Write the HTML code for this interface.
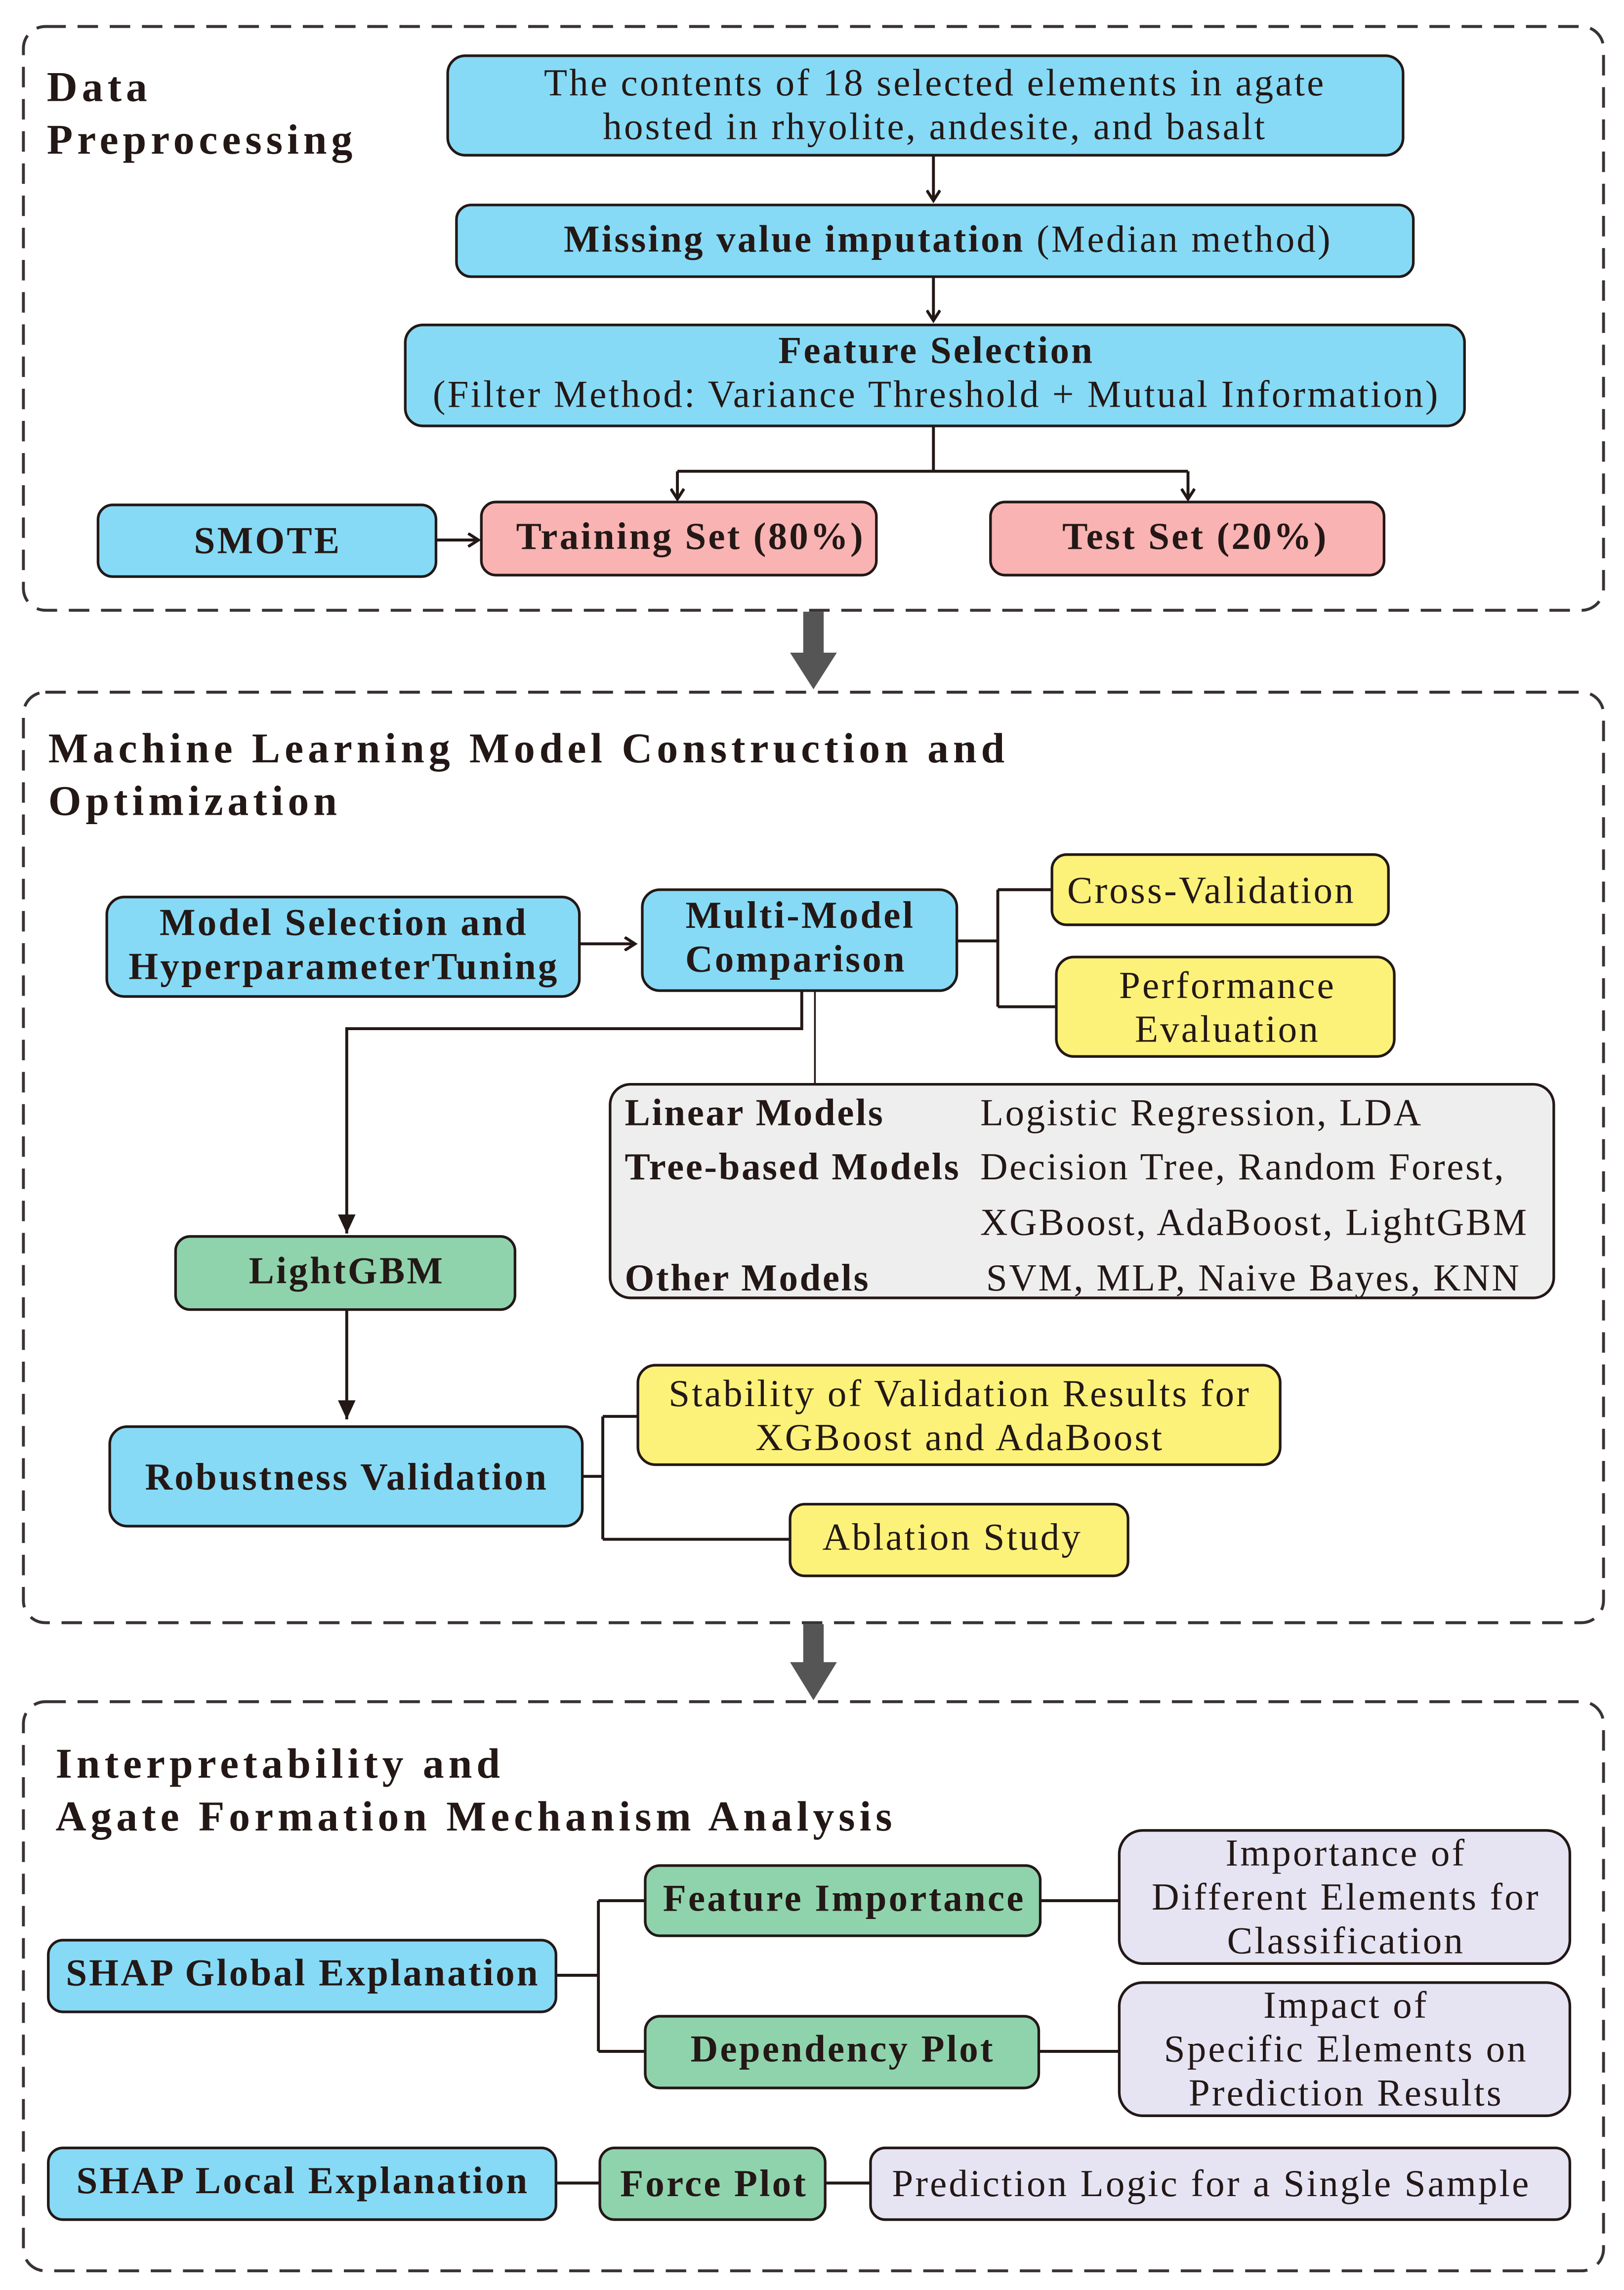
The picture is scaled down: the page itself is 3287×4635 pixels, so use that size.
<!DOCTYPE html>
<html><head><meta charset="utf-8"><style>html,body{margin:0;padding:0;background:#fff}svg{display:block}text{font-family:"Liberation Serif",serif;fill:#231816}</style></head>
<body>
<svg width="3287" height="4635" viewBox="0 0 1110 1565" xmlns="http://www.w3.org/2000/svg">
<defs>
<marker id="a" markerWidth="10" markerHeight="10" refX="8" refY="5" orient="auto" markerUnits="userSpaceOnUse"><path d="M1,0.5 L8,5 L1,9.5" fill="none" stroke="#231816" stroke-width="2"/></marker>
<marker id="t" markerWidth="14" markerHeight="14" refX="13" refY="7" orient="auto" markerUnits="userSpaceOnUse"><path d="M0,1 L13,7 L0,13 z" fill="#231816"/></marker>
</defs>
<g fill="none" stroke="#3a3333" stroke-width="2" stroke-dasharray="14,8">
<rect x="16" y="18" width="1080" height="399" rx="15"/>
<rect x="16" y="473" width="1080" height="636" rx="15"/>
<rect x="16" y="1163" width="1080" height="389" rx="15"/>
</g>
<g fill="#555">
<rect x="549" y="418" width="14" height="30"/><path d="M540,446 L572,446 L556,471 z"/>
<rect x="549" y="1110" width="14" height="28"/><path d="M540,1136 L572,1136 L556,1162 z"/>
</g>
<g stroke="#231816" stroke-width="1.8">
<rect x="306" y="38" width="653" height="68" rx="12" fill="#86daf5"/>
<rect x="312" y="140" width="654" height="49" rx="10" fill="#86daf5"/>
<rect x="277" y="222" width="724" height="69" rx="12" fill="#86daf5"/>
<rect x="67" y="345" width="231" height="49" rx="10" fill="#86daf5"/>
<rect x="329" y="343" width="270" height="50" rx="10" fill="#f9b3b3"/>
<rect x="677" y="343" width="269" height="50" rx="10" fill="#f9b3b3"/>
<rect x="73" y="613" width="323" height="68" rx="12" fill="#86daf5"/>
<rect x="439" y="608" width="215" height="69" rx="12" fill="#86daf5"/>
<rect x="719" y="584" width="230" height="48" rx="10" fill="#fcf27a"/>
<rect x="722" y="654" width="231" height="68" rx="12" fill="#fcf27a"/>
<rect x="417" y="741" width="645" height="146" rx="14" fill="#eeeeee"/>
<rect x="120" y="845" width="232" height="50" rx="10" fill="#8fd3ac"/>
<rect x="75" y="975" width="323" height="68" rx="12" fill="#86daf5"/>
<rect x="436" y="933" width="439" height="68" rx="12" fill="#fcf27a"/>
<rect x="540" y="1028" width="231" height="49" rx="10" fill="#fcf27a"/>
<rect x="33" y="1326" width="347" height="49" rx="10" fill="#86daf5"/>
<rect x="441" y="1275" width="270" height="48" rx="10" fill="#8fd3ac"/>
<rect x="765" y="1251" width="308" height="91" rx="16" fill="#e6e4f3"/>
<rect x="441" y="1378" width="269" height="49" rx="10" fill="#8fd3ac"/>
<rect x="765" y="1355" width="308" height="91" rx="16" fill="#e6e4f3"/>
<rect x="33" y="1468" width="347" height="49" rx="10" fill="#86daf5"/>
<rect x="410" y="1468" width="154" height="49" rx="10" fill="#8fd3ac"/>
<rect x="595" y="1468" width="478" height="49" rx="10" fill="#e6e4f3"/>
</g>
<g stroke="#231816" stroke-width="2" fill="none">
<path d="M638,106 V137" marker-end="url(#a)"/>
<path d="M638,189 V219" marker-end="url(#a)"/>
<path d="M638,291 V322 M463,322 H812"/>
<path d="M463,322 V341" marker-end="url(#a)"/>
<path d="M812,322 V341" marker-end="url(#a)"/>
<path d="M298,369 H327" marker-end="url(#a)"/>
<path d="M396,645 H434" marker-end="url(#a)"/>
<path d="M654,643 H682 M682,608 V688 M682,608 H719 M682,688 H722"/>
<path d="M548,677 V703 H237 V843" marker-end="url(#t)"/>
<path d="M557,677 V741" stroke-width="1.2"/>
<path d="M237,895 V970" marker-end="url(#t)"/>
<path d="M398,1009 H412 M412,968 V1052 M412,968 H436 M412,1052 H540"/>
<path d="M380,1350 H409 M409,1299 V1402 M409,1299 H441 M409,1402 H441 M711,1299 H765 M710,1402 H765"/>
<path d="M380,1492 H410 M564,1492 H595"/>
</g>
<g font-size="29" font-weight="bold" letter-spacing="3">
<text x="32" y="69">Data</text><text x="32" y="105">Preprocessing</text>
<text x="33" y="521">Machine Learning Model Construction and</text><text x="33" y="557">Optimization</text>
<text x="38" y="1215">Interpretability and</text><text x="38" y="1251">Agate Formation Mechanism Analysis</text>
</g>
<g font-size="26" text-anchor="middle" letter-spacing="1.4">
<text x="639" y="65">The contents of 18 selected elements in agate</text>
<text x="639" y="95">hosted in rhyolite, andesite, and basalt</text>
<text x="648" y="172"><tspan font-weight="bold">Missing value imputation</tspan> (Median method)</text>
<text x="640" y="248" font-weight="bold">Feature Selection</text>
<text x="640" y="278">(Filter Method: Variance Threshold + Mutual Information)</text>
<text x="183" y="378" font-weight="bold">SMOTE</text>
<text x="472" y="375" font-weight="bold">Training Set (80%)</text>
<text x="817" y="375" font-weight="bold">Test Set (20%)</text>
<text x="235" y="639" font-weight="bold">Model Selection and</text>
<text x="235" y="669" font-weight="bold">HyperparameterTuning</text>
<text x="547" y="634" font-weight="bold">Multi-Model</text>
<text x="544" y="664" font-weight="bold">Comparison</text>
<text x="828" y="617">Cross-Validation</text>
<text x="839" y="682">Performance</text>
<text x="839" y="712">Evaluation</text>
<text x="237" y="877" font-weight="bold">LightGBM</text>
<text x="237" y="1018" font-weight="bold">Robustness Validation</text>
<text x="656" y="961">Stability of Validation Results for</text>
<text x="656" y="991">XGBoost and AdaBoost</text>
<text x="651" y="1059">Ablation Study</text>
<text x="207" y="1357" font-weight="bold">SHAP Global Explanation</text>
<text x="577" y="1306" font-weight="bold">Feature Importance</text>
<text x="576" y="1409" font-weight="bold">Dependency Plot</text>
<text x="920" y="1275">Importance of</text>
<text x="920" y="1305">Different Elements for</text>
<text x="920" y="1335">Classification</text>
<text x="920" y="1379">Impact of</text>
<text x="920" y="1409">Specific Elements on</text>
<text x="920" y="1439">Prediction Results</text>
<text x="207" y="1499" font-weight="bold">SHAP Local Explanation</text>
<text x="488" y="1501" font-weight="bold">Force Plot</text>
<text x="828" y="1501">Prediction Logic for a Single Sample</text>
</g>
<g font-size="26" letter-spacing="1.2">
<text x="427" y="769" font-weight="bold">Linear Models</text>
<text x="670" y="769">Logistic Regression, LDA</text>
<text x="427" y="806" font-weight="bold">Tree-based Models</text>
<text x="670" y="806">Decision Tree, Random Forest,</text>
<text x="670" y="844">XGBoost, AdaBoost, LightGBM</text>
<text x="427" y="882" font-weight="bold">Other Models</text>
<text x="674" y="882">SVM, MLP, Naive Bayes, KNN</text>
</g>
</svg>
</body></html>
